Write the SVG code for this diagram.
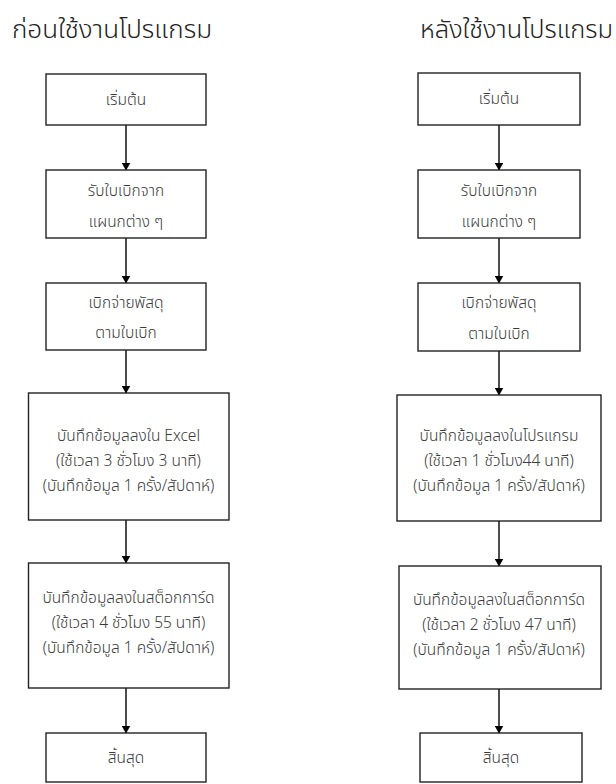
<svg xmlns="http://www.w3.org/2000/svg" width="616" height="784" viewBox="0 0 616 784">
<defs>
<marker id="ah" markerWidth="8" markerHeight="9" refX="7.5" refY="4.5" orient="auto" markerUnits="userSpaceOnUse">
<path d="M0,0 L8,4.5 L0,9 Z" fill="#000"/>
</marker>
<style>
.box{fill:#fff;stroke:#222;stroke-width:1.4}
.t{font-family:"Noto Sans Thai","Noto Sans","DejaVu Sans",sans-serif;font-size:15.5px;font-weight:300;fill:#3a3a3a;text-anchor:middle;dominant-baseline:central}
.title{font-family:"Noto Sans Thai","Noto Sans","DejaVu Sans",sans-serif;font-size:25px;font-weight:300;fill:#222}
.c{stroke:#000;stroke-width:1.4;fill:none;marker-end:url(#ah)}
</style>
</defs>
<rect width="616" height="784" fill="#fff"/>
<text class="title" x="12" y="38" textLength="200" lengthAdjust="spacingAndGlyphs">ก่อนใช้งานโปรแกรม</text>
<text class="title" x="420" y="38" textLength="193" lengthAdjust="spacingAndGlyphs">หลังใช้งานโปรแกรม</text>

<g id="connectors">
<line class="c" x1="126" y1="125" x2="126" y2="170"/>
<line class="c" x1="126" y1="238" x2="126" y2="283"/>
<line class="c" x1="126" y1="350" x2="126" y2="393"/>
<line class="c" x1="126" y1="520" x2="126" y2="563"/>
<line class="c" x1="126" y1="688" x2="126" y2="733"/>
<line class="c" x1="499" y1="125" x2="499" y2="170"/>
<line class="c" x1="499" y1="238" x2="499" y2="283"/>
<line class="c" x1="499" y1="351" x2="499" y2="395"/>
<line class="c" x1="499" y1="521" x2="499" y2="566"/>
<line class="c" x1="499" y1="689" x2="499" y2="733"/>
</g>

<g id="L1"><rect class="box" x="46" y="74" width="160" height="51"/><text class="t" x="126" y="100">เริ่มต้น</text></g>
<g id="L2"><rect class="box" x="46" y="170" width="160" height="68"/><text class="t" x="126" y="191">รับใบเบิกจาก</text><text class="t" x="126" y="222">แผนกต่าง ๆ</text></g>
<g id="L3"><rect class="box" x="46" y="283" width="160" height="67"/><text class="t" x="126" y="303">เบิกจ่ายพัสดุ</text><text class="t" x="126" y="333">ตามใบเบิก</text></g>
<g id="L4"><rect class="box" x="28.5" y="393" width="200.5" height="127"/><text class="t" x="128.5" y="436">บันทึกข้อมูลลงใน Excel</text><text class="t" x="128.5" y="461">(ใช้เวลา 3 ชั่วโมง 3 นาที)</text><text class="t" x="128.5" y="486">(บันทึกข้อมูล 1 ครั้ง/สัปดาห์)</text></g>
<g id="L5"><rect class="box" x="28.5" y="563" width="200.5" height="125"/><text class="t" x="128.5" y="598">บันทึกข้อมูลลงในสต็อกการ์ด</text><text class="t" x="128.5" y="623">(ใช้เวลา 4 ชั่วโมง 55 นาที)</text><text class="t" x="128.5" y="648">(บันทึกข้อมูล 1 ครั้ง/สัปดาห์)</text></g>
<g id="L6"><rect class="box" x="46" y="733" width="160" height="49"/><text class="t" x="126" y="758">สิ้นสุด</text></g>

<g id="R1"><rect class="box" x="418" y="73" width="162" height="52"/><text class="t" x="499" y="99">เริ่มต้น</text></g>
<g id="R2"><rect class="box" x="418" y="170" width="162" height="68"/><text class="t" x="499" y="191">รับใบเบิกจาก</text><text class="t" x="499" y="222">แผนกต่าง ๆ</text></g>
<g id="R3"><rect class="box" x="418" y="283" width="162" height="68"/><text class="t" x="499" y="303">เบิกจ่ายพัสดุ</text><text class="t" x="499" y="334">ตามใบเบิก</text></g>
<g id="R4"><rect class="box" x="397" y="395" width="204" height="126"/><text class="t" x="499" y="436">บันทึกข้อมูลลงในโปรแกรม</text><text class="t" x="499" y="461">(ใช้เวลา 1 ชั่วโมง44 นาที)</text><text class="t" x="499" y="486">(บันทึกข้อมูล 1 ครั้ง/สัปดาห์)</text></g>
<g id="R5"><rect class="box" x="399" y="566" width="202" height="123"/><text class="t" x="499" y="600">บันทึกข้อมูลลงในสต็อกการ์ด</text><text class="t" x="499" y="625">(ใช้เวลา 2 ชั่วโมง 47 นาที)</text><text class="t" x="499" y="650">(บันทึกข้อมูล 1 ครั้ง/สัปดาห์)</text></g>
<g id="R6"><rect class="box" x="420" y="733" width="162" height="49"/><text class="t" x="501" y="758">สิ้นสุด</text></g>
</svg>
